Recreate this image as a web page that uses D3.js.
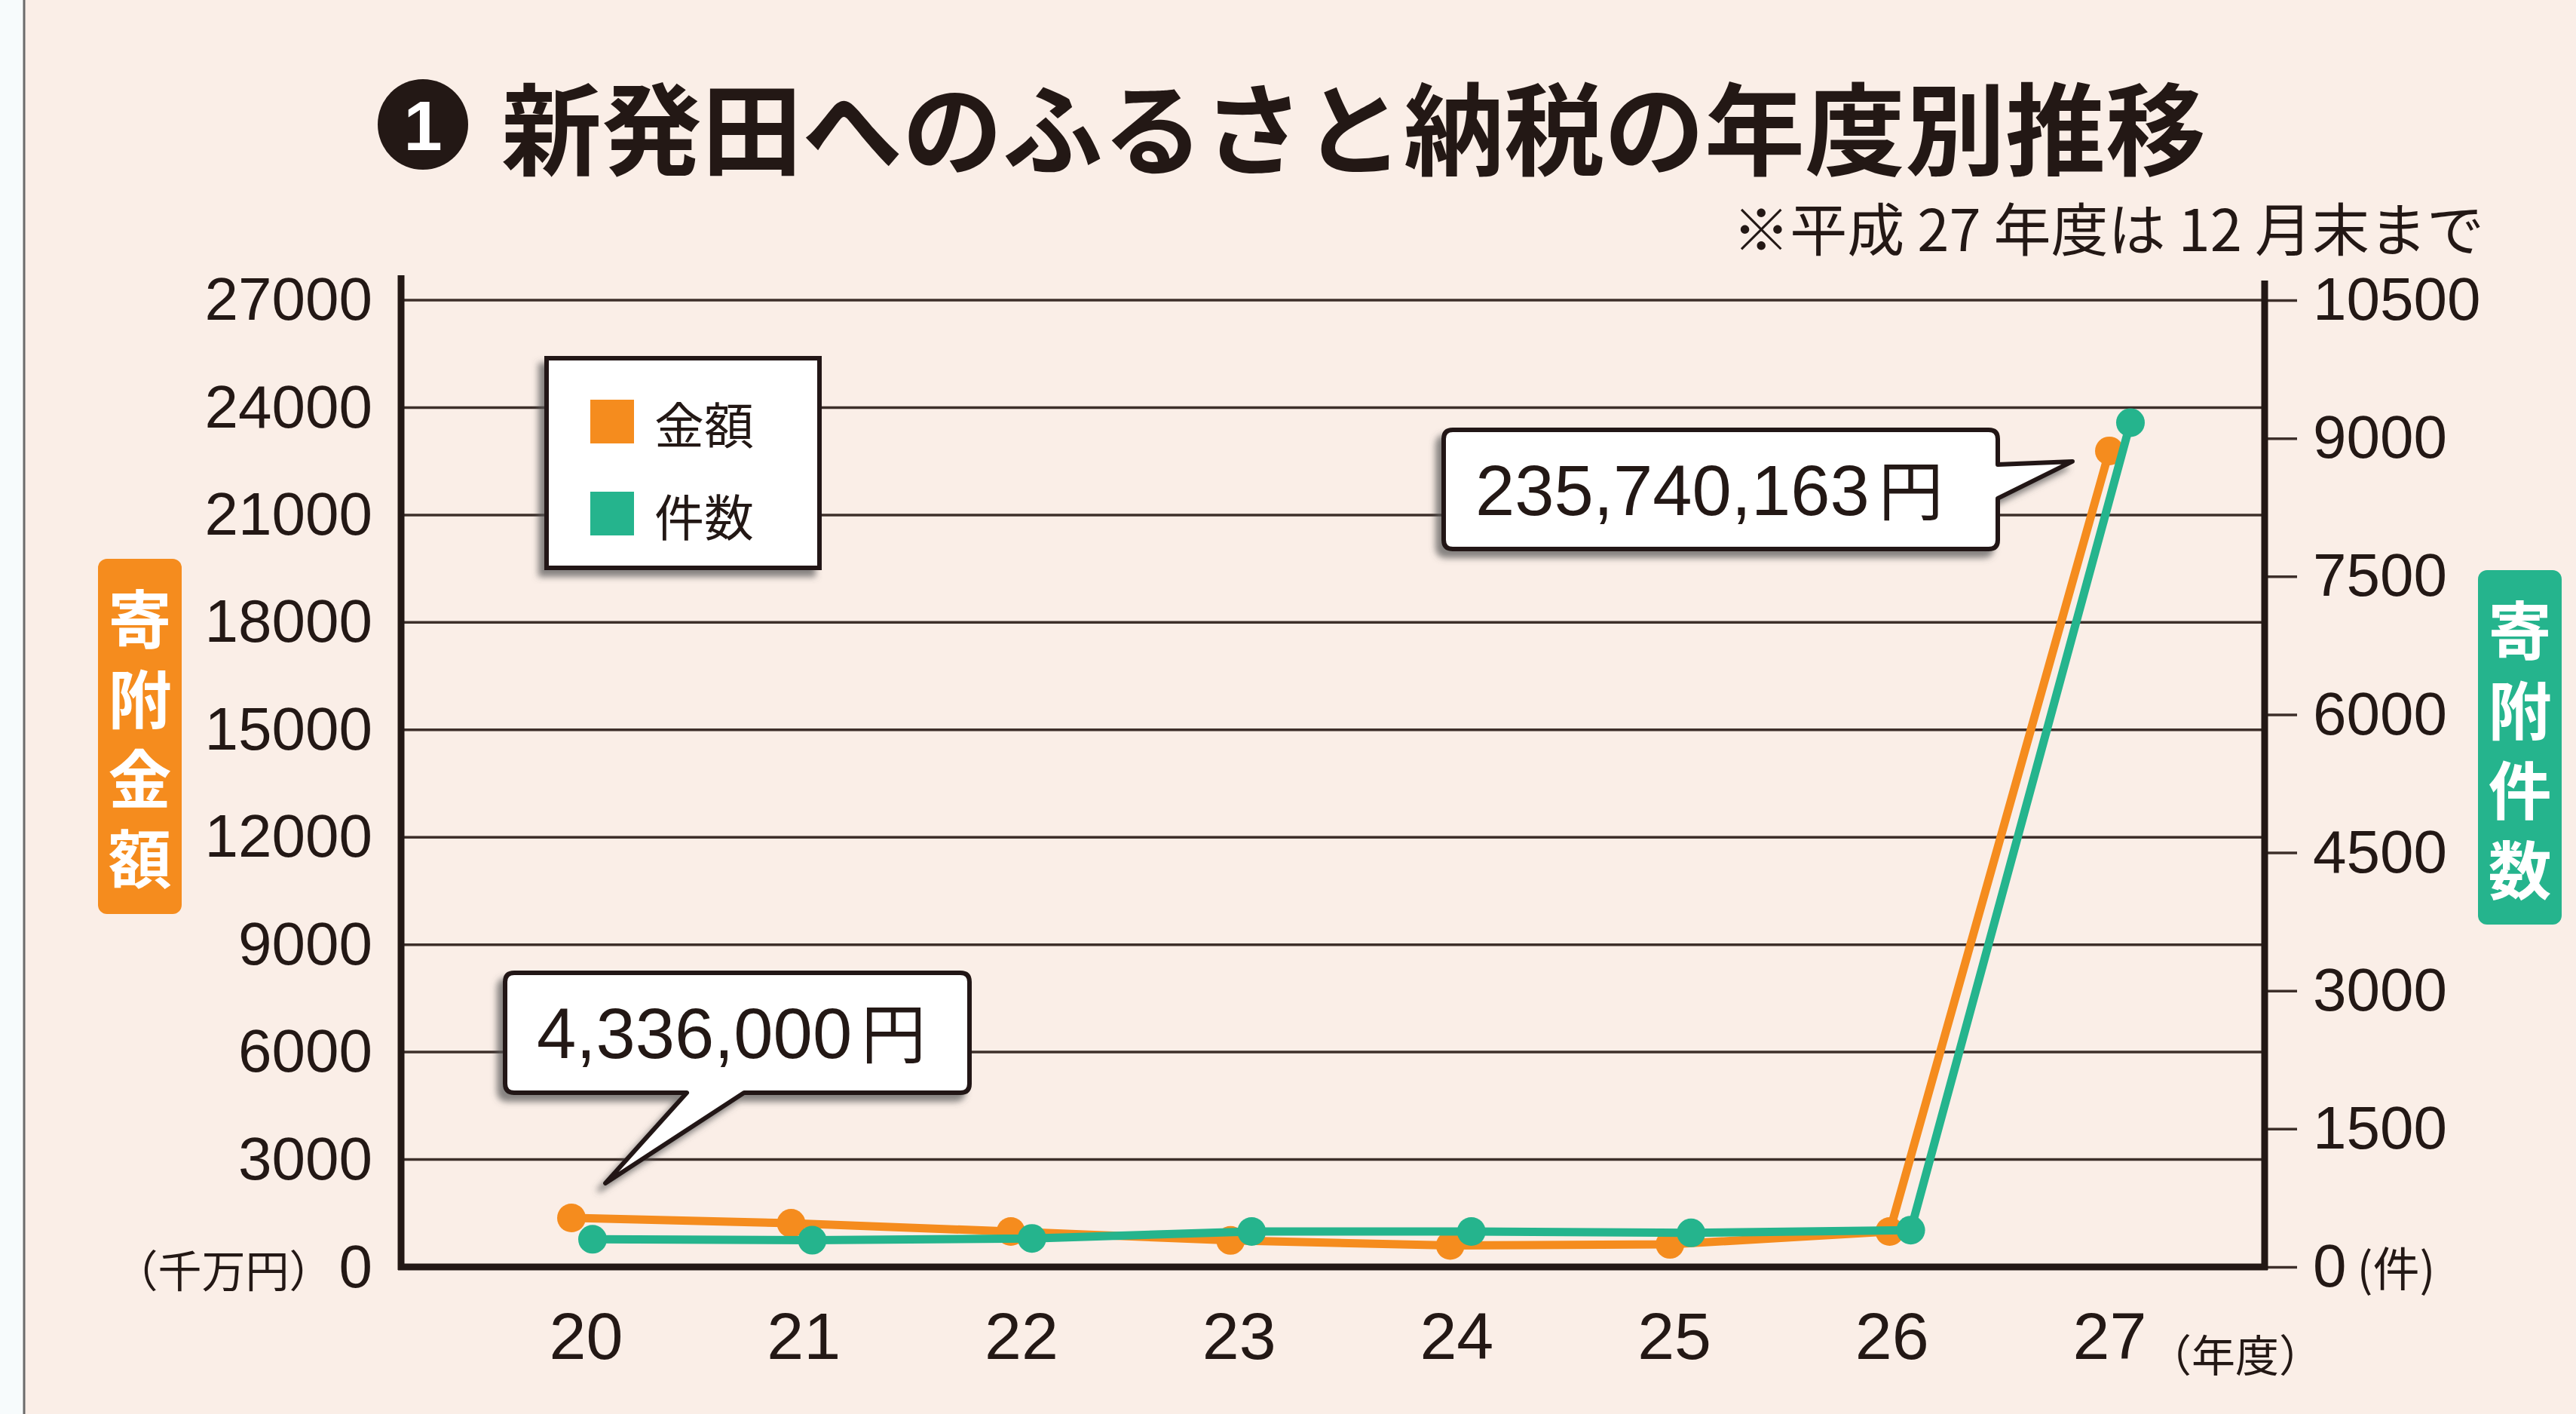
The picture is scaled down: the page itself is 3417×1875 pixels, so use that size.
<!DOCTYPE html>
<html lang="ja">
<head>
<meta charset="UTF-8">
<title>新発田へのふるさと納税の年度別推移</title>
<script src="https://d3js.org/d3.v7.min.js"></script>
<style>
  body { margin: 0; background: #f7fbfc; }
  svg { display: block; }
</style>
</head>
<body>
<div id="chart"></div>
<script>
// data
const years = ["20", "21", "22", "23", "24", "25", "26", "27"];
const amount = [1370, 1220, 990, 740, 600, 630, 990, 22790];   // 寄附金額 (left axis)
const count = [300, 290, 310, 385, 385, 370, 400, 9170];       // 寄附件数 (right axis)
const leftTicks = [0, 3000, 6000, 9000, 12000, 15000, 18000, 21000, 24000, 27000];
const rightTicks = [0, 1500, 3000, 4500, 6000, 7500, 9000, 10500];
const seriesNames = ["金額", "件数"];
const calloutText = ["4,336,000", "235,740,163"];

const W = 3417, H = 1875;
const orange = "#f58c1e", teal = "#25b48d", ink = "#231815";
const cjk = "'Noto Sans CJK JP', sans-serif";
const latin = "'Liberation Sans', Arial, sans-serif";

const svg = d3.select("#chart").append("svg")
  .attr("width", W)
  .attr("height", H);

const defs = svg.append("defs");
const sh = defs.append("filter").attr("id", "shadow")
  .attr("x", "-10%").attr("y", "-10%").attr("width", "120%").attr("height", "130%");
sh.append("feDropShadow").attr("dx", -8).attr("dy", 9).attr("stdDeviation", 4)
  .attr("flood-color", "#555").attr("flood-opacity", 0.7);

// background + left border
svg.append("rect").attr("x", 32).attr("y", 0).attr("width", W - 32).attr("height", H).attr("fill", "#faeee7");
svg.append("line").attr("x1", 32).attr("x2", 32).attr("y1", 0).attr("y2", H)
  .attr("stroke", "#6b6b6b").attr("stroke-width", 3);

// title
svg.append("circle").attr("cx", 561).attr("cy", 165).attr("r", 60).attr("fill", ink);
svg.append("text").attr("x", 561).attr("y", 167)
  .attr("text-anchor", "middle").attr("dominant-baseline", "central")
  .style("font-family", latin).style("font-weight", "bold").style("font-size", "92px")
  .attr("fill", "#fff").text("1");
svg.append("text").attr("x", 665).attr("y", 164)
  .attr("dominant-baseline", "central")
  .style("font-family", cjk).style("font-weight", "bold").style("font-size", "133px")
  .attr("fill", ink).text("新発田へのふるさと納税の年度別推移");
svg.append("text").attr("x", 3295).attr("y", 300)
  .attr("text-anchor", "end").attr("dominant-baseline", "central")
  .style("font-family", cjk).style("font-size", "76px")
  .attr("fill", ink).text("※平成 27 年度は 12 月末まで");

// scales
const plotL = 532, plotR = 3004, plotT = 398, plotB = 1680;
const yL = d3.scaleLinear().domain([0, 27000]).range([plotB, plotT]);
const yR = d3.scaleLinear().domain([0, 10500]).range([plotB, plotT]);
const xLab = d3.scalePoint().domain(years).range([777, 2798]);
const xPt = d3.scalePoint().domain(years).range([772, 2812]);

// gridlines
svg.append("g").selectAll("line")
  .data(leftTicks.filter(d => d > 0))
  .join("line")
  .attr("x1", plotL).attr("x2", plotR)
  .attr("y1", d => yL(d)).attr("y2", d => yL(d))
  .attr("stroke", "#3d2f2a").attr("stroke-width", 3.5);

// left axis
const gL = svg.append("g").attr("transform", `translate(${plotL},0)`)
  .call(d3.axisLeft(yL).tickValues(leftTicks).tickSize(0).tickPadding(38)
    .tickFormat(d => d));
gL.select(".domain").remove();
gL.selectAll("text").style("font-family", latin).style("font-size", "80px").attr("fill", ink);
// unit in front of the zero label
gL.selectAll(".tick text").filter(d => d === 0)
  .text("")
  .call(t => {
    t.append("tspan").attr("dy", "26px").style("font-family", cjk).style("font-size", "58px").text("（千万円）");
    t.append("tspan").attr("dx", 8).text("0");
  });

// right axis
const gR = svg.append("g").attr("transform", `translate(${plotR},0)`)
  .call(d3.axisRight(yR).tickValues(rightTicks).tickSize(43).tickPadding(21)
    .tickFormat(d => d));
gR.select(".domain").remove();
gR.selectAll(".tick line").attr("stroke", "#3d2f2a").attr("stroke-width", 3.5);
gR.selectAll("text").style("font-family", latin).style("font-size", "80px").attr("fill", ink);
gR.selectAll(".tick text").filter(d => d === 0)
  .append("tspan").attr("dx", 14)
  .style("font-family", cjk).style("font-size", "62px").text("(件)");

// axis frame lines
svg.append("line").attr("x1", plotL).attr("x2", plotL).attr("y1", 365).attr("y2", plotB + 4)
  .attr("stroke", ink).attr("stroke-width", 9);
svg.append("line").attr("x1", plotR).attr("x2", plotR).attr("y1", 372).attr("y2", plotB + 4)
  .attr("stroke", ink).attr("stroke-width", 9);
svg.append("line").attr("x1", plotL - 4).attr("x2", plotR + 4).attr("y1", plotB).attr("y2", plotB)
  .attr("stroke", ink).attr("stroke-width", 9);

// x axis labels
const gX = svg.append("g").attr("transform", `translate(0,${plotB})`)
  .call(d3.axisBottom(xLab).tickSize(0).tickPadding(60));
gX.select(".domain").remove();
gX.selectAll("text").style("font-family", latin).style("font-size", "88px").attr("fill", ink);
svg.append("text").attr("x", 2849).attr("y", 1794)
  .attr("dominant-baseline", "central")
  .style("font-family", cjk).style("font-size", "58px").attr("fill", ink)
  .text("（年度）");

// series
const series = [
  { name: seriesNames[0], values: amount, y: yL, color: orange, dx: -14 },
  { name: seriesNames[1], values: count, y: yR, color: teal, dx: 14 }
];
series.forEach(s => {
  const line = d3.line()
    .x((d, i) => xPt(years[i]) + s.dx)
    .y(d => s.y(d));
  svg.append("path").datum(s.values)
    .attr("d", line)
    .attr("fill", "none")
    .attr("stroke", s.color)
    .attr("stroke-width", 11)
    .attr("stroke-linejoin", "round");
  svg.append("g").selectAll("circle")
    .data(s.values)
    .join("circle")
    .attr("cx", (d, i) => xPt(years[i]) + s.dx)
    .attr("cy", d => s.y(d))
    .attr("r", 19)
    .attr("fill", s.color);
});

// legend
const lg = svg.append("g");
lg.append("rect").attr("x", 725).attr("y", 475).attr("width", 362).attr("height", 278)
  .attr("fill", "#fff").attr("stroke", ink).attr("stroke-width", 6)
  .attr("filter", "url(#shadow)");
series.forEach((s, i) => {
  lg.append("rect").attr("x", 783).attr("y", 530 + i * 122).attr("width", 58).attr("height", 58)
    .attr("fill", s.color);
  lg.append("text").attr("x", 868).attr("y", 560 + i * 122)
    .attr("dominant-baseline", "central")
    .style("font-family", cjk).style("font-size", "66px").attr("fill", ink)
    .text(s.name);
});

// vertical axis titles (one vertical text each)
function vLabel(x, y, w, h, color, chars) {
  svg.append("rect").attr("x", x).attr("y", y).attr("width", w).attr("height", h)
    .attr("rx", 12).attr("fill", color);
  svg.append("text")
    .attr("x", x + w / 2)
    .attr("y", y + 38)
    .style("writing-mode", "vertical-rl")
    .style("letter-spacing", "22px")
    .style("font-family", cjk).style("font-weight", "bold").style("font-size", "84px")
    .attr("fill", "#fff").text(chars);
}
vLabel(130, 741, 111, 471, orange, "寄附金額");
vLabel(3287, 756, 111, 470, teal, "寄附件数");

// callouts
function callout(tx, ty, box, base, side, label) {
  const [x0, y0, x1, y1] = box, r = 12;
  let p = `M${x0 + r},${y0} L${x1 - r},${y0} Q${x1},${y0} ${x1},${y0 + r}`;
  if (side === "right") {
    p += ` L${x1},${base[0]} L${tx},${ty} L${x1},${base[1]}`;
  }
  p += ` L${x1},${y1 - r} Q${x1},${y1} ${x1 - r},${y1}`;
  if (side === "bottom") {
    p += ` L${base[1]},${y1} L${tx},${ty} L${base[0]},${y1}`;
  }
  p += ` L${x0 + r},${y1} Q${x0},${y1} ${x0},${y1 - r} L${x0},${y0 + r} Q${x0},${y0} ${x0 + r},${y0} Z`;
  const g = svg.append("g");
  g.append("path").attr("d", p)
    .attr("fill", "#fff").attr("stroke", ink).attr("stroke-width", 6)
    .attr("stroke-linejoin", "round").attr("filter", "url(#shadow)");
  const t = g.append("text").attr("x", x0 + 42).attr("y", (y0 + y1) / 2 + 34)
    .attr("fill", ink);
  t.append("tspan").style("font-family", latin).style("font-size", "94px").text(label);
  t.append("tspan").attr("dx", 12).style("font-family", cjk).style("font-size", "86px").text("円");
}

// 20年度 callout, tip near the first amount point
const p0x = xPt(years[0]) - 14, p0y = yL(amount[0]);
const t0x = p0x + 45, t0y = p0y - 46;
callout(t0x, t0y, [t0x - 133, t0y - 279, t0x + 483, t0y - 120], [t0x + 108, t0x + 184], "bottom", calloutText[0]);

// 27年度 callout, tip near the last amount point
const p7x = xPt(years[7]) - 14, p7y = yL(amount[7]);
const t7x = p7x - 49, t7y = p7y + 14;
callout(t7x, t7y, [t7x - 834, t7y - 42, t7x - 99, t7y + 116], [t7y + 4, t7y + 49], "right", calloutText[1]);
</script>
</body>
</html>
